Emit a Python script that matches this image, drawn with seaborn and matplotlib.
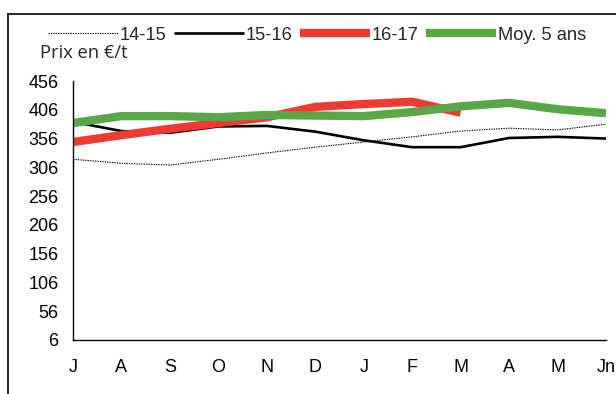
import matplotlib
matplotlib.use("Agg")
import matplotlib.pyplot as plt
from matplotlib.lines import Line2D
import pandas as pd
import seaborn as sns

# Monthly prices (€/t), campaign July -> June
months = ["J", "A", "S", "O", "N", "D", "J", "F", "M", "A", "M", "Jn"]
prix_14_15 = [320, 313, 310, 320, 331, 341, 350, 359, 369, 374, 371, 381]
prix_15_16 = [385, 369, 366, 377, 378, 368, 353, 341, 341, 357, 359, 356]
prix_16_17 = [350, 362, 373, 383, 393, 411, 416, 420, 401]
prix_moy5 = [383, 395, 395, 393, 397, 396, 395, 402, 412, 418, 407, 400]
y_ticks = [6, 56, 106, 156, 206, 256, 306, 356, 406, 456]

series = {
    "14-15": prix_14_15,
    "15-16": prix_15_16,
    "16-17": prix_16_17,
    "Moy. 5 ans": prix_moy5,
}
rows = []
for name, vals in series.items():
    for i, v in enumerate(vals):
        rows.append({"serie": name, "mois": i, "prix": v})
df = pd.DataFrame(rows)

sns.set_style("white")
plt.rcParams["font.family"] = ["Liberation Sans", "DejaVu Sans"]

fig = plt.figure(figsize=(6.16, 3.94), dpi=100)
ax = fig.add_axes([73 / 616, 1 - 340 / 394, (606 - 73) / 616, (340 - 81) / 394])

styles = {
    "14-15": dict(color="black", linewidth=0.8, linestyle=(0, (1.2, 1.0))),
    "15-16": dict(color="black", linewidth=1.9, linestyle="-"),
    "16-17": dict(color="#EF3A32", linewidth=6.0, linestyle="-"),
    "Moy. 5 ans": dict(color="#58A848", linewidth=6.0, linestyle="-"),
}
for name in series:
    sns.lineplot(data=df[df["serie"] == name], x="mois", y="prix", ax=ax,
                 label=name, legend=False, solid_capstyle="butt",
                 **styles[name])

ax.set_xlim(0, 11)
ax.set_ylim(6, 456)
ax.set_xticks(range(len(months)))
ax.set_xticklabels(months)
ax.set_yticks(y_ticks)
ax.set_xlabel("")
ax.set_ylabel("")
for s in ["top", "right"]:
    ax.spines[s].set_visible(False)
for s in ["left", "bottom"]:
    ax.spines[s].set_color("black")
    ax.spines[s].set_linewidth(1.0)
ax.tick_params(axis="both", direction="out", length=4, width=1, color="black",
               labelsize=13, labelcolor="black")
ax.tick_params(axis="x", pad=10)
ax.tick_params(axis="y", pad=6.5)

handles = [Line2D([], [], solid_capstyle="butt", **styles[n]) for n in series]
fig.legend(handles, list(series.keys()), loc="center left",
           bbox_to_anchor=(48 / 616, 1 - 35 / 394), ncol=4, frameon=False,
           fontsize=13.2, handlelength=3.8, handletextpad=0.12,
           columnspacing=0.4, borderpad=0, borderaxespad=0)

fig.text(40 / 616, 1 - 53 / 394, "Prix en €/t", fontsize=13.2, va="center",
         ha="left", family=["Open Sans", "DejaVu Sans"])

# outer frame (left and top edges)
fig.add_artist(Line2D([8 / 616, 8 / 616], [0, 1 - 14 / 394],
                      transform=fig.transFigure, color="black", lw=1.2))
fig.add_artist(Line2D([8 / 616, 1], [1 - 14 / 394, 1 - 14 / 394],
                      transform=fig.transFigure, color="black", lw=1.2))

fig.savefig("out.png", dpi=100)
